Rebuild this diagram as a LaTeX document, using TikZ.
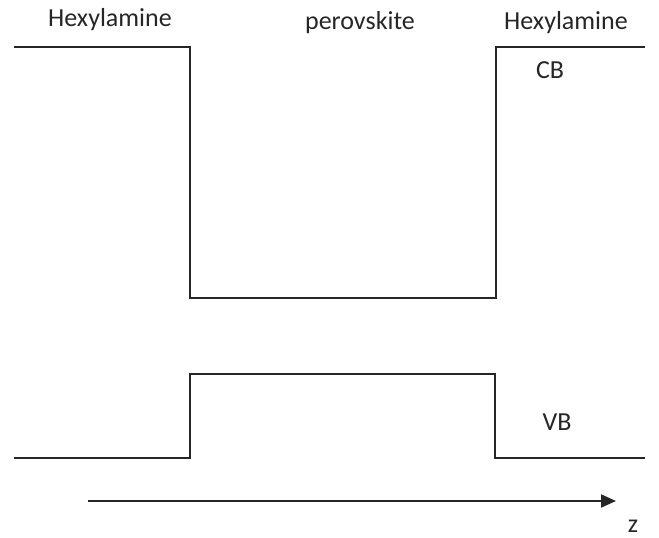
\documentclass[tikz,border=0pt]{standalone}
\usepackage{fontspec}
\setmainfont{Carlito}
\usetikzlibrary{arrows.meta}
\begin{document}
\begin{tikzpicture}[x=1pt,y=-1pt,
  band/.style={line width=2pt,line join=miter,color=black!85},
  lbl/.style={anchor=base,inner sep=0pt,font=\fontsize{26}{30}\selectfont,text=black!85},
  axis/.style={line width=2pt,color=black!85,-{Triangle[length=15pt,width=13pt]}}]
\useasboundingbox (0,0) rectangle (659,538);
% conduction band
\coordinate (cb0) at (14,47);
\coordinate (cb1) at (190,47);
\coordinate (cb2) at (190,298);
\coordinate (cb3) at (496,298);
\coordinate (cb4) at (496,47);
\coordinate (cb5) at (645,47);
\draw[band] (cb0) -- (cb1) -- (cb2) -- (cb3) -- (cb4) -- (cb5);
% valence band
\coordinate (vb0) at (14,458);
\coordinate (vb1) at (190,458);
\coordinate (vb2) at (190,374);
\coordinate (vb3) at (495,374);
\coordinate (vb4) at (495,458);
\coordinate (vb5) at (645,458);
\draw[band] (vb0) -- (vb1) -- (vb2) -- (vb3) -- (vb4) -- (vb5);
% axis
\coordinate (za) at (88,501);
\coordinate (zb) at (616,501);
\draw[axis] (za) -- (zb);
% labels
\node[lbl] (hexl) at (110,27) {Hexylamine};
\node[lbl] (pero) at (360,30) {perovskite};
\node[lbl] (hexr) at (566,30) {Hexylamine};
\node[lbl] (cb) at (550,78) {CB};
\node[lbl] (vb) at (557,430) {VB};
\node[lbl] (z) at (633,532) {z};
\end{tikzpicture}
\end{document}
